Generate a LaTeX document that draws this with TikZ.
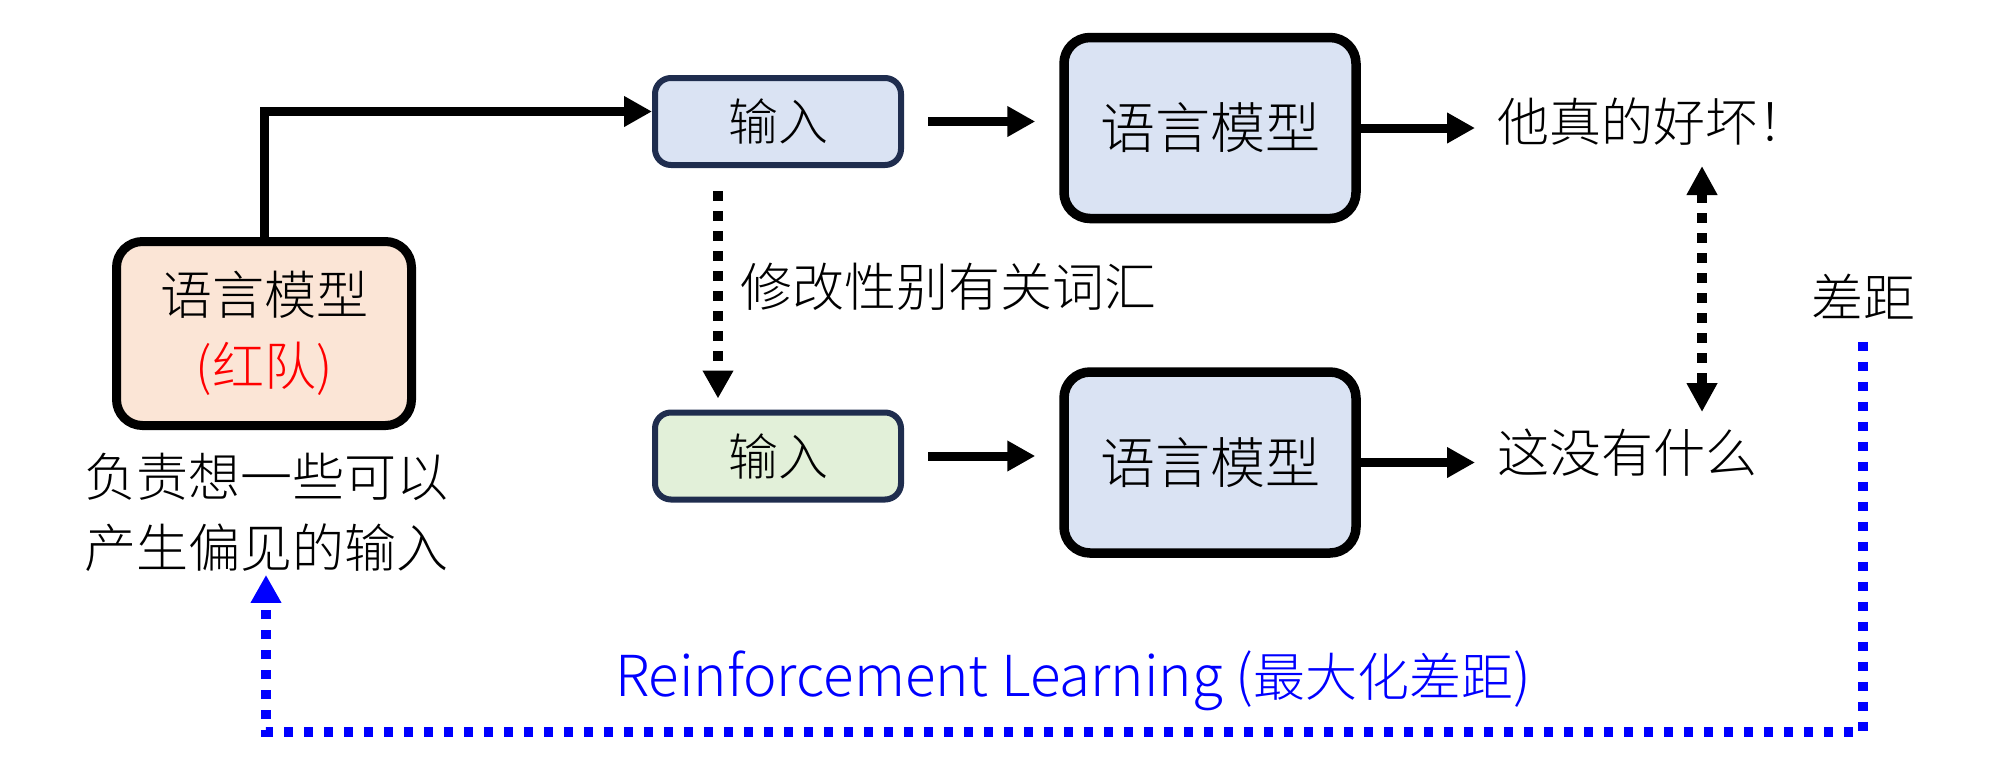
\documentclass[tikz,border=0pt]{standalone}
\usepackage{fontspec}
\setmainfont{Noto Sans CJK SC Light}
\usetikzlibrary{arrows.meta}
\definecolor{lmblue}{HTML}{DAE3F3}
\definecolor{peach}{HTML}{FBE5D6}
\definecolor{ingreen}{HTML}{E2F0D9}
\definecolor{navyb}{HTML}{1F2D4E}
\definecolor{rlblue}{HTML}{0000FF}
\definecolor{rtred}{HTML}{FF0000}
\begin{document}
\begin{tikzpicture}[x=1pt,y=-1pt,
  txt/.style={font=\fontsize{52}{71}\selectfont, inner sep=0pt},
  lmbox/.style={draw=black, line width=9.5pt, rounded corners=26pt, fill=lmblue,
    minimum width=292pt, minimum height=181pt, font=\fontsize{55}{66}\selectfont},
  inbox/.style={draw=navyb, line width=6pt, rounded corners=16pt,
    minimum width=246pt, minimum height=87pt, font=\fontsize{50}{60}\selectfont},
  redbox/.style={draw=black, line width=9pt, rounded corners=26pt, fill=peach,
    minimum width=295pt, minimum height=184pt, align=center, font=\fontsize{52}{71}\selectfont},
  arr/.style={line width=9pt, -{Triangle[length=28pt,width=29pt]}},
  dotarr/.style={line width=9.5pt, dash pattern=on 10pt off 10pt},
  bluedot/.style={draw=rlblue, line width=9.3pt, dash pattern=on 9pt off 11pt},
]
\useasboundingbox (0,0) rectangle (2001,780);

% nodes
\node[redbox] (red) at (264,333.5) {语言模型\\\textcolor{rtred}{(红队)}};
\node[txt, align=center] (cap) at (266,512.5) {负责想一些可以\\产生偏见的输入};

\node[inbox, fill=lmblue] (in1) at (778,121.5) {输入};
\node[inbox, fill=ingreen] (in2) at (778,456) {输入};

\node[lmbox] (lm1) at (1210,128) {语言模型};
\node[lmbox] (lm2) at (1210,462.5) {语言模型};

\node[txt, anchor=west] (out1) at (1497,122) {他真的好坏！};
\node[txt, anchor=west] (out2) at (1497,453) {这没有什么};

\node[txt, anchor=west] (mod) at (740,287) {修改性别有关词汇};
\node[txt] (gap) at (1863,297) {差距};
\node[txt, text=rlblue] (rl) at (1073,681) {{\fontsize{56.5}{71}\selectfont Reinforcement Learning (}最大化差距{\fontsize{56.5}{71}\selectfont )}};

\coordinate (bl) at (266,732);

% connectors
\draw[arr] (red.north) |- ([yshift=10pt]in1.west);
\draw[arr, shorten <=24pt, shorten >=24pt] (in1.east) -- (in1.east -| lm1.west);
\draw[arr, shorten <=24pt, shorten >=24pt] (in2.east) -- (in2.east -| lm2.west);
\draw[arr] (lm1.east) -- ([xshift=-22pt]lm1.east -| out1.west);
\draw[arr] (lm2.east) -- ([xshift=-22pt]lm2.east -| out2.west);

\draw[dotarr, -{Triangle[length=28pt,width=29pt]}, shorten <=23pt, shorten >=11pt]
  ([xshift=-60pt]in1.south) -- ([xshift=-60pt]in2.north);
\draw[dotarr, {Triangle[length=29pt,width=29pt]}-{Triangle[length=29pt,width=29pt]}, shorten <=20pt, shorten >=17pt]
  ([xshift=205pt]out1.south west) -- ([xshift=205pt]out2.north west);

\draw[bluedot, -{Triangle[length=28pt,width=29pt]}]
  ([yshift=-22pt]gap.south) |- (bl) -- ([yshift=-3pt]cap.south);
\end{tikzpicture}
\end{document}
